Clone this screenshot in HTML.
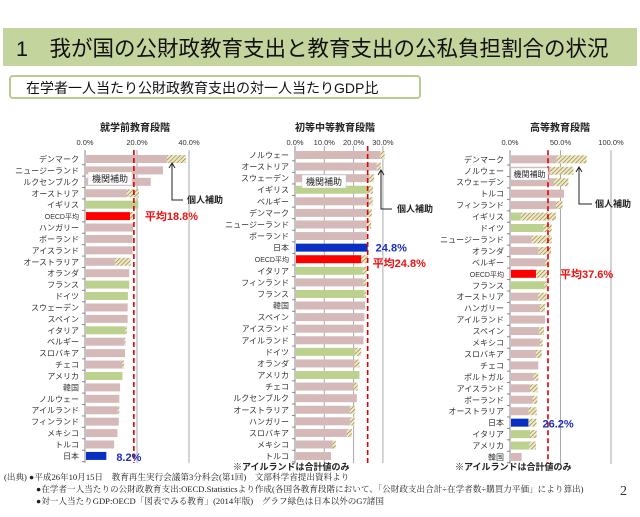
<!DOCTYPE html>
<html><head><meta charset="utf-8">
<style>
html,body{margin:0;padding:0;background:#fff;}
body{width:640px;height:512px;overflow:hidden;font-family:"Liberation Sans","Noto Sans CJK JP",sans-serif;}
svg text{font-family:"Liberation Sans","Noto Sans CJK JP",sans-serif;}
</style></head>
<body>
<svg id="chart" width="640" height="512" viewBox="0 0 640 512" xmlns="http://www.w3.org/2000/svg">
<defs>
<pattern id="hatch" patternUnits="userSpaceOnUse" width="3" height="3" patternTransform="rotate(45)">
<rect width="3" height="3" fill="#efe9c8"/>
<line x1="0" y1="0" x2="0" y2="3" stroke="#8c7d3a" stroke-width="1.3"/>
</pattern>
</defs>
<rect x="3" y="28" width="634" height="38" fill="#c3d49c"/>
<text x="16" y="56" font-size="21.5" fill="#111">1　我が国の公財政教育支出と教育支出の公私負担割合の状況</text>
<rect x="10" y="76" width="410" height="22" rx="3" fill="#fff" stroke="#b9cc90" stroke-width="2"/>
<text x="26" y="93" font-size="14" fill="#111">在学者一人当たり公財政教育支出の対一人当たりGDP比</text>
<g id="panels"></g>
<text x="233" y="470" font-size="9" font-weight="bold" fill="#222">※アイルランドは合計値のみ</text>
<text x="455" y="470" font-size="9" font-weight="bold" fill="#222">※アイルランドは合計値のみ</text>
<g font-size="8.6" fill="#222">
<text x="4" y="480" style="font-family:'Liberation Serif','Noto Serif CJK SC',serif">(出典) ●平成26年10月15日　教育再生実行会議第3分科会(第1回)　文部科学省提出資料より</text>
<text x="36" y="492" style="font-family:'Liberation Serif','Noto Serif CJK SC',serif">●在学者一人当たりの公財政教育支出:OECD.Statisticsより作成(各国各教育段階において、「公財政支出合計÷在学者数÷購買力平価」により算出)</text>
<text x="36" y="504" style="font-family:'Liberation Serif','Noto Serif CJK SC',serif">●対一人当たりGDP:OECD「図表でみる教育」(2014年版)　グラフ緑色は日本以外のG7諸国</text>
</g>
<text x="620" y="495" font-size="14" style="font-family:'Liberation Serif',serif" fill="#333">2</text>
</svg>
<script>
const p1Categories=["デンマーク","ニュージーランド","ルクセンブルク","オーストリア","イギリス","OECD平均","ハンガリー","ポーランド","アイスランド","オーストラリア","オランダ","フランス","ドイツ","スウェーデン","スペイン","イタリア","ベルギー","スロバキア","チェコ","アメリカ","韓国","ノルウェー","アイルランド","フィンランド","メキシコ","トルコ","日本"];
const p1Public=[31.5,30,25.3,16,20.5,17.3,18.5,18.3,18.3,11.5,17,17,16.5,16.4,16.4,15.5,15.1,15.4,14.4,14.4,13.5,13.2,12.6,13,12.5,11.2,8.2];
const p1Total=[38.8,30,25.3,20.8,20.5,18.8,18.5,18.3,18.3,17.6,17,17,16.5,16.4,16.4,16.1,15.6,15.4,15.1,14.4,13.5,13.2,13.2,13,12.5,11.2,8.2];
const p1Ticks=["0.0%","20.0%","40.0%"];
const p1TickVals=[0,20,40];
const p1Mean=18.8;

const p2Categories=["ノルウェー","オーストリア","スウェーデン","イギリス","ベルギー","デンマーク","ニュージーランド","ポーランド","日本","OECD平均","イタリア","フィンランド","フランス","韓国","スペイン","アイスランド","アイルランド","ドイツ","オランダ","アメリカ","チェコ","ルクセンブルク","オーストラリア","ハンガリー","スロバキア","メキシコ","トルコ"];
const p2Public=[29.1,27.9,25.3,24.9,25.3,24.7,24.5,24.5,24.8,22.6,23.1,23.4,23.6,23.9,23.7,23.4,23.4,20.5,20.3,22,20,21.1,18.8,18.8,17.7,12.8,12.3];
const p2Total=[30.6,29.3,27,26.6,26.5,26.2,26,24.5,24.8,24.8,24.5,24.3,24.2,23.9,23.7,23.4,23.4,22.6,22,22,21.4,21.1,20.5,20.3,19.4,13.9,12.3];
const p2Ticks=["0.0%","10.0%","20.0%","30.0%"];
const p2TickVals=[0,10,20,30];
const p2Mean=24.8;

const p3Categories=["デンマーク","ノルウェー","スウェーデン","トルコ","フィンランド","イギリス","ドイツ","ニュージーランド","オランダ","ベルギー","OECD平均","フランス","オーストリア","ハンガリー","アイルランド","スペイン","メキシコ","スロバキア","チェコ","ポルトガル","アイスランド","ポーランド","オーストラリア","日本","イタリア","アメリカ","韓国"];
const p3Public=[46.2,40,43.6,53.5,45.5,10.6,33,21.5,28,34.7,25.7,34,28,29.7,34.7,29,29.7,25.7,28,23,19.8,22.4,18.2,18.2,19.8,19,11.5];
const p3Total=[75.9,62.7,57.8,53.5,52.1,45.5,41.3,41.3,40.6,38.9,37.6,37,36.3,34.7,34.7,33.7,32.3,31.4,28,28,27.4,27,26.4,26.2,26.4,25.7,11.5];
const p3Ticks=["0.0%","50.0%","100.0%"];
const p3TickVals=[0,50,100];
const p3Mean=37.6;

const G7=["イギリス","フランス","ドイツ","イタリア","アメリカ"];
const NS="http://www.w3.org/2000/svg";
const root=document.getElementById('panels');
function mk(tag,attrs,parent){const e=document.createElementNS(NS,tag);for(const k in attrs)e.setAttribute(k,attrs[k]);(parent||root).appendChild(e);return e;}

function drawPanel(idx,title,titleX,cats,pub,tot,ticks,tickVals,mean,x0,ppu,y0,pitch){
  const xs=v=>x0+v*ppu;
  const ys=i=>y0+i*pitch;
  const g=mk('g',{});
  
  
  const t=mk('text',{x:titleX,y:131,'font-size':10,'font-weight':'bold','text-anchor':'middle',fill:'#222'},g);
  t.textContent=title;
  
  
  const top=ys(0)-9, bot=ys(cats.length-1)+7;
  tickVals.forEach((v,i)=>{
    const gl=mk('line',{x1:xs(v),x2:xs(v),y1:top,y2:bot,stroke:i===0?'#888':'#aaa','stroke-width':1},g);
    
    
    const tl=mk('text',{x:xs(v),y:145,'font-size':7.5,'text-anchor':'middle',fill:'#333'},g);
    tl.textContent=ticks[i];
    
    
  });
  cats.forEach((c,i)=>{
    const y=ys(i);
    const tk=mk('line',{x1:x0-3,x2:x0,y1:y+pitch/2,y2:y+pitch/2,stroke:'#888'},g);
    
    
    const lb=mk('text',{x:x0-6,y:y+3,'font-size':c==='OECD平均'?7:8,'text-anchor':'end',fill:'#333'},g);
    lb.textContent=c;
    
    
    let col='#d5b9b9';
    if(G7.includes(c))col='#bcd18e';
    if(c==='日本')col='#0a2fc4';
    if(c==='OECD平均')col='#ff0000';
    if(tot[i]>pub[i]){
      const h=mk('rect',{x:xs(pub[i]),y:y-4,width:xs(tot[i])-xs(pub[i]),height:8,fill:'url(#hatch)'},g);
      
      
    }
    const b=mk('rect',{x:x0+1,y:y-4,width:Math.max(0,xs(pub[i])-x0-1),height:8,fill:col},g);
    
    
  });
  const ml=mk('line',{x1:xs(mean),x2:xs(mean),y1:top,y2:bot,stroke:'#e00000','stroke-width':1.6,'stroke-dasharray':'5,3'},g);
  
  
  return {xs,ys,g};
}
function box(g,x,y,w,h,txt){
  const r=mk('rect',{x:x,y:y,width:w,height:h,fill:'#fff',stroke:'#ccc','stroke-width':0.5},g);
  
  
  const t=mk('text',{x:x+w/2,y:y+h-3,'font-size':w>40?9:8,'text-anchor':'middle',fill:'#222'},g);
  t.textContent=txt;
  
  
}
function arrow(g,x,ytip,ybot,xr,tx){
  const p=mk('path',{d:`M${x-3},${ytip+5} L${x},${ytip} L${x+3},${ytip+5} M${x},${ytip} L${x},${ybot} L${xr},${ybot}`,fill:'none',stroke:'#222','stroke-width':1},g);
  
  
  const t=mk('text',{x:tx,y:ybot+3,'font-size':9,'font-weight':'bold',fill:'#222'},g);
  t.textContent='個人補助';
  
  
}
function label(g,x,y,txt,col,name){
  const t=mk('text',{x:x,y:y,'font-size':11,'font-weight':'bold',fill:col},g);
  t.textContent=txt;
  
  
}
const a=drawPanel(1,'就学前教育段階',135,p1Categories,p1Public,p1Total,p1Ticks,p1TickVals,p1Mean,85,2.6,159,11.42);
box(a.g,88,172,44,13,'機関補助');
arrow(a.g,172,163,200,183,187);
label(a.g,a.xs(p1Mean)+11,a.ys(5)+4,'平均'+p1Mean.toFixed(1)+'%','#ee1111','mean-label-1');
label(a.g,a.xs(p1Total[26])+10,a.ys(26)+5,p1Total[26].toFixed(1)+'%','#1a2fc0','japan-label-1');

const b=drawPanel(2,'初等中等教育段階',335,p2Categories,p2Public,p2Total,p2Ticks,p2TickVals,p2Mean,295,2.93,155,11.58);
box(b.g,302,175,44,13,'機関補助');
arrow(b.g,381,170,209,392,397);
label(b.g,b.xs(p2Total[8])+8,b.ys(8)+4,p2Total[8].toFixed(1)+'%','#1a2fc0','japan-label-2');
label(b.g,b.xs(p2Mean)+5,b.ys(9)+8,'平均'+p2Mean.toFixed(1)+'%','#ee1111','mean-label-2');

const c=drawPanel(3,'高等教育段階',560,p3Categories,p3Public,p3Total,p3Ticks,p3TickVals,p3Mean,510,1.01,159.3,11.45);
box(c.g,511,168,37,12,'機関補助');
arrow(c.g,579,167,204,592,595);
label(c.g,c.xs(p3Mean)+12,c.ys(10)+4,'平均'+p3Mean.toFixed(1)+'%','#ee1111','mean-label-3');
label(c.g,c.xs(p3Total[23])+6,c.ys(23)+5,p3Total[23].toFixed(1)+'%','#1a2fc0','japan-label-3');
</script>
</body></html>
